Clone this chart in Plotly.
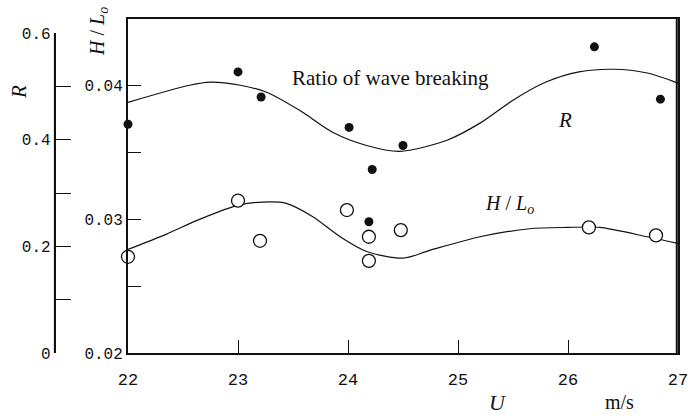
import plotly.graph_objects as go

# ---- data ----
u_R = [22.0, 23.0, 23.21, 24.01, 24.19, 24.22, 24.5, 26.24, 26.84]
R_vals = [0.429, 0.527, 0.480, 0.423, 0.246, 0.344, 0.389, 0.574, 0.476]

u_H = [22.0, 23.0, 23.2, 23.99, 24.19, 24.19, 24.48, 26.19, 26.8]
H_vals = [0.0272, 0.0314, 0.0284, 0.0307, 0.0287, 0.0269, 0.0292, 0.0294, 0.0288]

curve_u_R = [22.0, 22.56, 22.75, 23.02, 23.26, 23.56, 23.86, 24.17, 24.47, 24.9,
             25.2, 25.5, 25.8, 26.1, 26.41, 26.72, 27.0]
curve_R = [0.470, 0.502, 0.508, 0.502, 0.489, 0.455, 0.414, 0.389, 0.378, 0.399,
           0.431, 0.474, 0.508, 0.527, 0.532, 0.525, 0.506]

curve_u_H = [22.0, 22.35, 22.65, 23.02, 23.23, 23.44, 23.68, 23.93, 24.17, 24.5,
             24.75, 25.2, 25.65, 25.99, 26.29, 26.72, 27.0]
curve_H = [0.02775, 0.0289, 0.0300, 0.0311, 0.0313, 0.0312, 0.0302, 0.0287, 0.0276,
           0.0271, 0.0277, 0.0287, 0.0293, 0.0294, 0.0294, 0.0287, 0.0282]

x_ticks = [22, 23, 24, 25, 26, 27]
x_ticktext = ["22", "23", "24", "25", "26", "27"]
H_ticks = [0.02, 0.025, 0.03, 0.035, 0.04]
H_ticktext = ["0.02", "", "0.03", "", "0.04"]
R_ticks = [0, 0.1, 0.2, 0.3, 0.4, 0.5, 0.6]
R_ticktext = ["0", "", "0.2", "", "0.4", "", "0.6"]

INK = "#111111"
MONO = "Liberation Mono"
SERIF = "Liberation Serif"

# layout geometry (pixels)
L, R_M, T, B = 53, 10, 19, 63
W = 688 - L - R_M
HH = 416 - T - B
PLOT_LEFT = 128
R_DOMAIN_TOP = (353 - 33) / HH


def px(x):
    return (x - L) / W


def py(y):
    return (T + HH - y) / HH


fig = go.Figure()

fig.add_trace(go.Scatter(x=curve_u_R, y=curve_R, mode="lines", xaxis="x", yaxis="y2",
                         line=dict(color=INK, width=1.2, shape="spline", smoothing=0.8),
                         hoverinfo="skip", showlegend=False))
fig.add_trace(go.Scatter(x=curve_u_H, y=curve_H, mode="lines", xaxis="x", yaxis="y",
                         line=dict(color=INK, width=1.2, shape="spline", smoothing=0.8),
                         hoverinfo="skip", showlegend=False))
fig.add_trace(go.Scatter(x=u_H, y=H_vals, mode="markers", xaxis="x", yaxis="y",
                         marker=dict(symbol="circle", size=13, color="white",
                                     line=dict(color=INK, width=1.3)),
                         cliponaxis=False, showlegend=False))
fig.add_trace(go.Scatter(x=u_R, y=R_vals, mode="markers", xaxis="x", yaxis="y2",
                         marker=dict(symbol="circle", size=9, color=INK),
                         cliponaxis=False, showlegend=False))

fig.update_layout(
    width=688, height=416,
    margin=dict(l=L, r=R_M, t=T, b=B, pad=0, autoexpand=False),
    paper_bgcolor="white", plot_bgcolor="rgba(0,0,0,0)",
    font=dict(family=MONO, color=INK, size=16),
    xaxis=dict(domain=[(PLOT_LEFT - L) / W, 1], range=[22, 27], tickvals=x_ticks,
               ticktext=x_ticktext, ticks="inside", ticklen=13, tickwidth=1.2,
               tickcolor=INK, showline=True, linecolor=INK, linewidth=2,
               mirror=True, showgrid=False, zeroline=False,
               tickfont=dict(family=MONO, size=17), ticklabelstandoff=10,
               ticklabeloverflow="allow", anchor="y"),
    yaxis=dict(domain=[0, 1], range=[0.02, 0.045], tickvals=H_ticks,
               ticktext=H_ticktext, ticks="inside", ticklen=13, tickwidth=1.2,
               tickcolor=INK, showline=True, linecolor=INK, linewidth=2,
               mirror=True, showgrid=False, zeroline=False,
               tickfont=dict(family=MONO, size=16), ticklabeloverflow="allow",
               anchor="x"),
    yaxis2=dict(domain=[0, R_DOMAIN_TOP], range=[0, 0.6], tickvals=R_ticks,
                ticktext=R_ticktext, ticks="inside", ticklen=15, tickwidth=1.2,
                tickcolor=INK, showline=True, linecolor=INK, linewidth=2,
                showgrid=False, zeroline=False, anchor="free", position=0.003,
                side="left", tickfont=dict(family=MONO, size=16),
                ticklabeloverflow="allow"),
)

# vertical spine of the R axis and right frame edge (paper coords, never clipped)
fig.add_shape(type="line", xref="paper", yref="paper", x0=0.003, x1=0.003,
              y0=0, y1=R_DOMAIN_TOP, line=dict(color=INK, width=2),
              layer="above")
fig.add_shape(type="line", xref="paper", yref="paper", x0=0.998, x1=0.998,
              y0=0, y1=1, line=dict(color=INK, width=2), layer="above")

ann = [
    dict(text="Ratio of wave breaking", x=px(390), y=py(78),
         font=dict(family=SERIF, size=21)),
    dict(text="<i>R</i>", x=px(565), y=py(120), font=dict(family=SERIF, size=21)),
    dict(text="<i>H</i> / <i>L<sub>o</sub></i>", x=px(509), y=py(204),
         font=dict(family=SERIF, size=20)),
    dict(text="<i>R</i>", x=px(19), y=py(92), textangle=-90,
         font=dict(family=SERIF, size=21)),
    dict(text="<i>H</i> / <i>L<sub>o</sub></i>", x=px(98), y=py(32), textangle=-90,
         font=dict(family=SERIF, size=20)),
    dict(text="<i>U</i>", x=px(498), y=py(402), font=dict(family=SERIF, size=22)),
    dict(text="m/s", x=px(619), y=py(402), font=dict(family=SERIF, size=20)),
]
for a in ann:
    fig.add_annotation(xref="paper", yref="paper", showarrow=False,
                       xanchor="center", yanchor="middle", **a)

fig.write_html("out.html")
